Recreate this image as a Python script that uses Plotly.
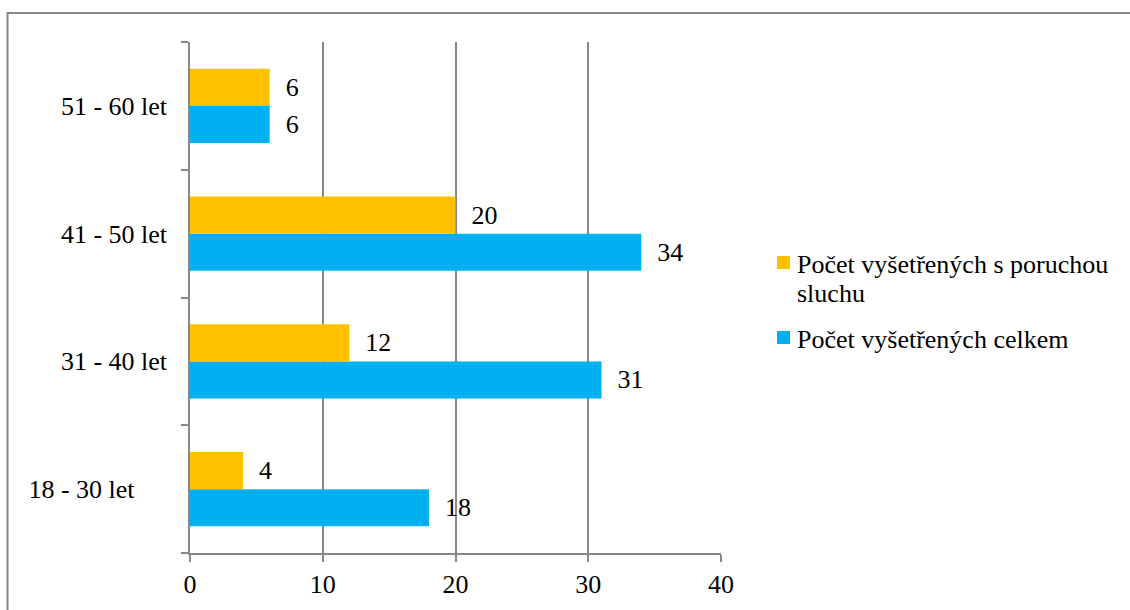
import plotly.graph_objects as go

# Age groups (bottom to top) and counts per group
age_groups = ["18 - 30 let", "31 - 40 let", "41 - 50 let", "51 - 60 let"]
age_labels = ["18 - 30 let" + "\u00a0" * 5, "31 - 40 let", "41 - 50 let", "51 - 60 let"]
total_examined = [18, 31, 34, 6]
with_hearing_loss = [4, 12, 20, 6]
x_ticks = [0, 10, 20, 30, 40]
series_names = ["Počet vyšetřených s poruchou sluchu", "Počet vyšetřených celkem"]

FONT = "Liberation Serif"
GRAY = "#888888"
BLUE = "#00B0F0"
ORANGE = "#FFC000"

W, H = 1130, 610
L, R, T, B = 190, 409, 42, 57
pw, ph = W - L - R, H - T - B


def px_x(p):
    return (p - L) / pw


def px_y(p):
    return (H - B - p) / ph


fig = go.Figure()
fig.add_trace(go.Bar(
    y=age_groups, x=total_examined, orientation="h",
    name=series_names[1], marker=dict(color=BLUE, line=dict(width=0)),
    text=total_examined, texttemplate="\u00a0\u00a0%{x}", textposition="outside",
    textfont=dict(family=FONT, size=26, color="#000000"),
    cliponaxis=False,
))
fig.add_trace(go.Bar(
    y=age_groups, x=with_hearing_loss, orientation="h",
    name=series_names[0], marker=dict(color=ORANGE, line=dict(width=0)),
    text=with_hearing_loss, texttemplate="\u00a0\u00a0%{x}", textposition="outside",
    textfont=dict(family=FONT, size=26, color="#000000"),
    cliponaxis=False,
))

# Legend drawn by hand: colour swatch plus text lines
shapes = [dict(
    type="rect", xref="paper", yref="paper",
    x0=px_x(7.5), x1=px_x(1140), y0=px_y(620), y1=px_y(13),
    line=dict(color=GRAY, width=2), fillcolor="rgba(0,0,0,0)", layer="below",
)]
annotations = []
legend_items = [
    (ORANGE, 256, ["Počet vyšetřených s poruchou", "sluchu"]),
    (BLUE, 331, [series_names[1]]),
]
for color, top, lines in legend_items:
    shapes.append(dict(
        type="rect", xref="paper", yref="paper",
        x0=px_x(777), x1=px_x(790), y0=px_y(top + 13), y1=px_y(top),
        fillcolor=color, line=dict(width=0),
    ))
    for i, line in enumerate(lines):
        annotations.append(dict(
            xref="paper", yref="paper", x=px_x(795), y=px_y(top + 8 + i * 29),
            xanchor="left", yanchor="middle", text=line, showarrow=False,
            font=dict(family=FONT, size=26, color="#000000"),
        ))

fig.update_layout(
    width=W, height=H,
    margin=dict(l=L, r=R, t=T, b=B, pad=0),
    paper_bgcolor="white", plot_bgcolor="white",
    barmode="group", bargap=0.42, bargroupgap=0,
    font=dict(family=FONT, size=26, color="#000000"),
    showlegend=False,
    xaxis=dict(
        range=[0, 40], tickvals=x_ticks, ticktext=[str(v) for v in x_ticks],
        showgrid=True, gridcolor=GRAY, gridwidth=1.5,
        showline=True, linecolor=GRAY, linewidth=1.5,
        ticks="outside", ticklen=7, tickcolor=GRAY, tickwidth=1.5,
        zeroline=False, tickfont=dict(family=FONT, size=26),
    ),
    yaxis=dict(
        categoryorder="array", categoryarray=age_groups,
        tickvals=age_groups, ticktext=age_labels,
        showline=True, linecolor=GRAY, linewidth=1.5,
        ticks="outside", ticklen=7, tickcolor=GRAY, tickwidth=1.5,
        tickson="boundaries", ticklabelstandoff=16,
        showgrid=False, zeroline=False, tickfont=dict(family=FONT, size=26),
    ),
    shapes=shapes,
    annotations=annotations,
)

fig.write_html("out.html")
